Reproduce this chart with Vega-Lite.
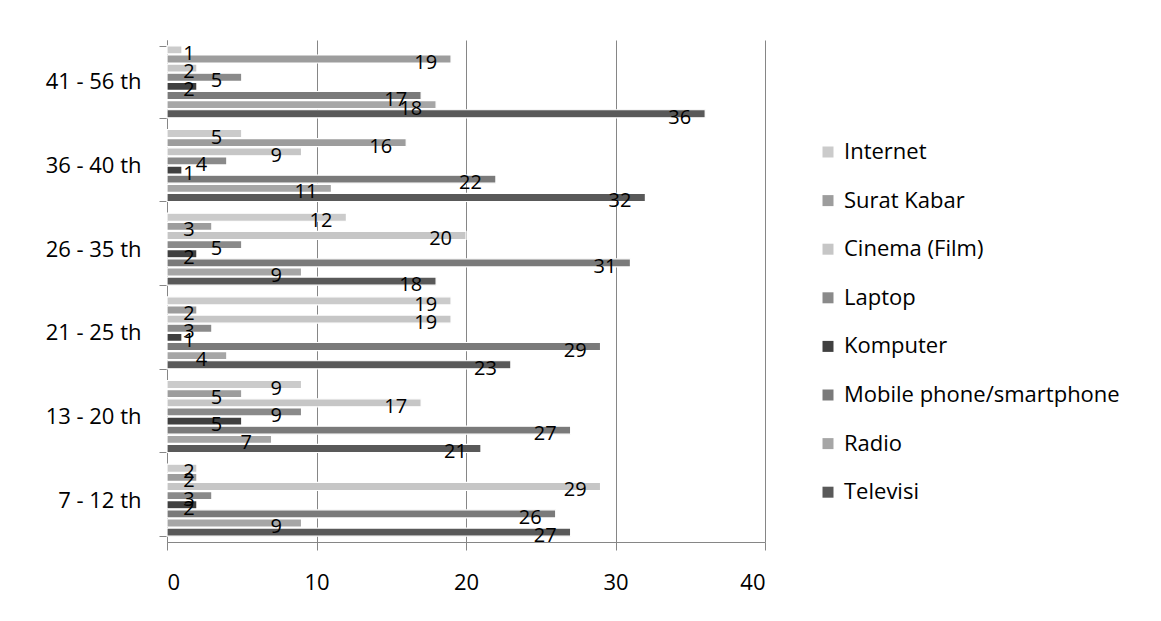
{
  "$schema": "https://vega.github.io/schema/vega-lite/v6.json",
  "width": 598,
  "height": 502,
  "autosize": {"type": "none"},
  "padding": {"left": 167, "top": 40, "right": 396, "bottom": 79},
  "background": "white",
  "config": {
    "view": {"stroke": null},
    "font": "Open Sans",
    "axis": {"labelFont": "Open Sans", "labelColor": "#000000", "domainColor": "#868686", "tickColor": "#868686"}
  },
  "data": {
    "values": [
      {"group": "41 - 56 th", "series": "Televisi", "value": 36},
      {"group": "41 - 56 th", "series": "Radio", "value": 18},
      {"group": "41 - 56 th", "series": "Mobile phone/smartphone", "value": 17},
      {"group": "41 - 56 th", "series": "Komputer", "value": 2},
      {"group": "41 - 56 th", "series": "Laptop", "value": 5},
      {"group": "41 - 56 th", "series": "Cinema (Film)", "value": 2},
      {"group": "41 - 56 th", "series": "Surat Kabar", "value": 19},
      {"group": "41 - 56 th", "series": "Internet", "value": 1},
      {"group": "36 - 40 th", "series": "Televisi", "value": 32},
      {"group": "36 - 40 th", "series": "Radio", "value": 11},
      {"group": "36 - 40 th", "series": "Mobile phone/smartphone", "value": 22},
      {"group": "36 - 40 th", "series": "Komputer", "value": 1},
      {"group": "36 - 40 th", "series": "Laptop", "value": 4},
      {"group": "36 - 40 th", "series": "Cinema (Film)", "value": 9},
      {"group": "36 - 40 th", "series": "Surat Kabar", "value": 16},
      {"group": "36 - 40 th", "series": "Internet", "value": 5},
      {"group": "26 - 35 th", "series": "Televisi", "value": 18},
      {"group": "26 - 35 th", "series": "Radio", "value": 9},
      {"group": "26 - 35 th", "series": "Mobile phone/smartphone", "value": 31},
      {"group": "26 - 35 th", "series": "Komputer", "value": 2},
      {"group": "26 - 35 th", "series": "Laptop", "value": 5},
      {"group": "26 - 35 th", "series": "Cinema (Film)", "value": 20},
      {"group": "26 - 35 th", "series": "Surat Kabar", "value": 3},
      {"group": "26 - 35 th", "series": "Internet", "value": 12},
      {"group": "21 - 25 th", "series": "Televisi", "value": 23},
      {"group": "21 - 25 th", "series": "Radio", "value": 4},
      {"group": "21 - 25 th", "series": "Mobile phone/smartphone", "value": 29},
      {"group": "21 - 25 th", "series": "Komputer", "value": 1},
      {"group": "21 - 25 th", "series": "Laptop", "value": 3},
      {"group": "21 - 25 th", "series": "Cinema (Film)", "value": 19},
      {"group": "21 - 25 th", "series": "Surat Kabar", "value": 2},
      {"group": "21 - 25 th", "series": "Internet", "value": 19},
      {"group": "13 - 20 th", "series": "Televisi", "value": 21},
      {"group": "13 - 20 th", "series": "Radio", "value": 7},
      {"group": "13 - 20 th", "series": "Mobile phone/smartphone", "value": 27},
      {"group": "13 - 20 th", "series": "Komputer", "value": 5},
      {"group": "13 - 20 th", "series": "Laptop", "value": 9},
      {"group": "13 - 20 th", "series": "Cinema (Film)", "value": 17},
      {"group": "13 - 20 th", "series": "Surat Kabar", "value": 5},
      {"group": "13 - 20 th", "series": "Internet", "value": 9},
      {"group": "7 - 12 th", "series": "Televisi", "value": 27},
      {"group": "7 - 12 th", "series": "Radio", "value": 9},
      {"group": "7 - 12 th", "series": "Mobile phone/smartphone", "value": 26},
      {"group": "7 - 12 th", "series": "Komputer", "value": 2},
      {"group": "7 - 12 th", "series": "Laptop", "value": 3},
      {"group": "7 - 12 th", "series": "Cinema (Film)", "value": 29},
      {"group": "7 - 12 th", "series": "Surat Kabar", "value": 2},
      {"group": "7 - 12 th", "series": "Internet", "value": 2}
    ]
  },
  "encoding": {
    "y": {
      "field": "group", "type": "nominal",
      "sort": ["41 - 56 th", "36 - 40 th", "26 - 35 th", "21 - 25 th", "13 - 20 th", "7 - 12 th"],
      "scale": {"paddingInner": 0.14, "paddingOuter": 0.07},
      "axis": {"title": null, "labelFontSize": 22, "labelPadding": 18, "tickBand": "extent", "tickSize": 8, "domainColor": "#868686", "ticks": true, "labelLimit": 0}
    },
    "yOffset": {
      "field": "series", "type": "nominal",
      "sort": ["Internet", "Surat Kabar", "Cinema (Film)", "Laptop", "Komputer", "Mobile phone/smartphone", "Radio", "Televisi"],
      "scale": {"paddingInner": 0.12}
    }
  },
  "resolve": {"scale": {"x": "independent"}},
  "layer": [
    {
      "mark": {"type": "bar", "stroke": "white", "strokeWidth": 1.2},
      "encoding": {
        "x": {
          "field": "value", "type": "quantitative",
          "scale": {"domain": [0, 40]},
          "axis": {"title": null, "values": [0, 10, 20, 30, 40], "labelFontSize": 22, "labelPadding": 22, "tickSize": 8, "gridColor": "#868686", "grid": true, "domainColor": "#868686"}
        },
        "color": {
          "field": "series", "type": "nominal",
          "sort": ["Internet", "Surat Kabar", "Cinema (Film)", "Laptop", "Komputer", "Mobile phone/smartphone", "Radio", "Televisi"],
          "scale": {
            "domain": ["Internet", "Surat Kabar", "Cinema (Film)", "Laptop", "Komputer", "Mobile phone/smartphone", "Radio", "Televisi"],
            "range": ["#cbcbcb", "#9d9d9d", "#c6c6c6", "#8a8a8a", "#404040", "#7a7a7a", "#a6a6a6", "#595959"]
          },
          "legend": {
            "title": null, "orient": "none", "legendX": 650, "legendY": 101,
            "symbolType": "square", "symbolSize": 121, "symbolStrokeWidth": 0,
            "labelFontSize": 22, "labelFont": "Open Sans", "labelColor": "#000000", "rowPadding": 26.6, "labelOffset": 5, "labelLimit": 0
          }
        }
      }
    },
    {
      "mark": {"type": "text", "align": "center", "baseline": "middle", "dy": 4, "fontSize": 20, "color": "#000000"},
      "encoding": {
        "x": {
          "field": "value", "type": "quantitative",
          "scale": {"domain": [3.17, 41.7], "range": [22, 598], "clamp": true, "zero": false, "nice": false},
          "axis": null
        },
        "text": {"field": "value", "type": "quantitative"}
      }
    }
  ]
}
